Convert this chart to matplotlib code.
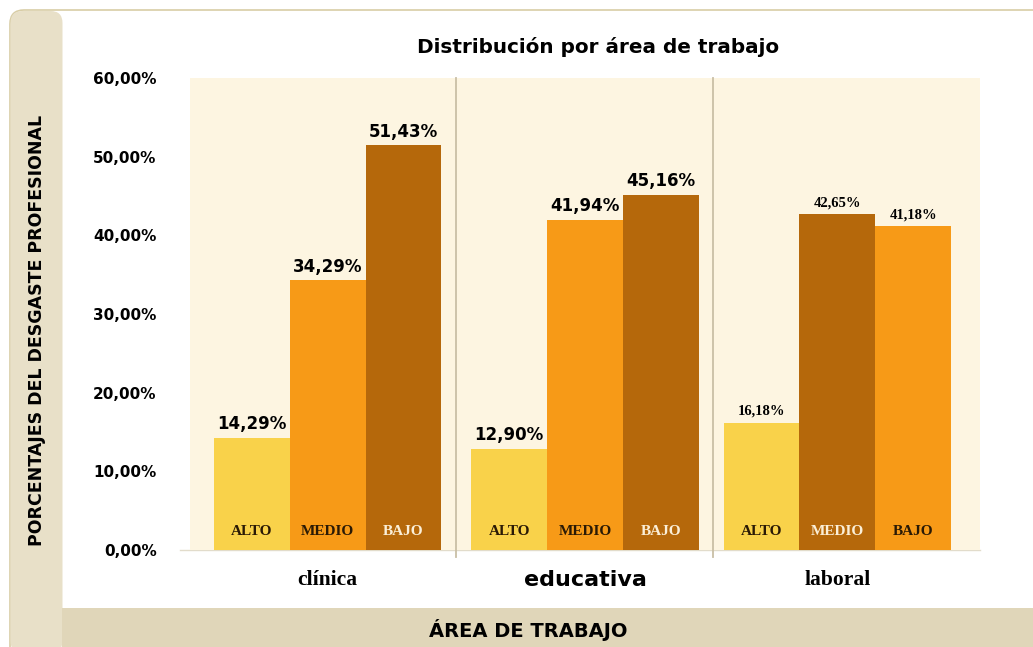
import matplotlib
matplotlib.use("Agg")
import matplotlib.pyplot as plt
from matplotlib.patches import FancyBboxPatch, Rectangle
import numpy as np

# Data
areas = ["clínica", "educativa", "laboral"]
niveles = ["ALTO", "MEDIO", "BAJO"]
alto = [14.29, 12.90, 16.18]
medio = [34.29, 41.94, 42.65]
bajo = [51.43, 45.16, 41.18]
yticks = [0, 10, 20, 30, 40, 50, 60]

W, H = 1033, 647
fig = plt.figure(figsize=(W / 100, H / 100), dpi=100)
fig.patch.set_facecolor("white")

def px(x, y):
    return x / W, 1 - y / H

# Background layer in pixel coordinates (y grows downward)
bg = fig.add_axes([0, 0, 1, 1], zorder=-5)
bg.set_xlim(0, W)
bg.set_ylim(H, 0)
bg.axis("off")

frame_col = "#D8CDA6"
bg.add_patch(FancyBboxPatch((10, 10), W + 30, H + 30,
                            boxstyle="round,pad=0,rounding_size=14",
                            facecolor="white", edgecolor=frame_col, linewidth=1.2))
bg.add_patch(FancyBboxPatch((10.5, 11), 52, H - 5,
                            boxstyle="round,pad=0,rounding_size=12",
                            facecolor="#E8E0C8", edgecolor="none"))
bg.add_patch(Rectangle((62, 608), W - 62, H - 608,
                       facecolor="#E0D6B9", edgecolor="none"))
# bottom axis line extending slightly left of the plot area
bg.plot([180, 980], [550, 550], color="#E2DCCB", lw=1.0)

# Plot area
l, b = px(190, 550)
r, t = px(980, 78)
ax = fig.add_axes([l, b, r - l, t - b])
ax.set_facecolor("#FDF5E1")

# group centres, nudged slightly inside each panel
x = np.arange(len(areas)) + np.array([0.023, 0.0, -0.042])
bw = 0.288
c_alto = "#F9D24A"
c_medio = "#F79A17"
c_bajo = "#B5680B"

medio_cols = [c_medio, c_medio, c_bajo]
bajo_cols = [c_bajo, c_bajo, c_medio]

ax.bar(x - bw, alto, bw, color=c_alto, zorder=2)
ax.bar(x, medio, bw, color=medio_cols, zorder=2)
ax.bar(x + bw, bajo, bw, color=bajo_cols, zorder=2)

ax.set_xlim(-0.5, 2.5)
ax.set_ylim(0, 60)

# Panel dividers
for d in [0.51, 1.486]:
    ax.axvline(d, ymin=-0.015, ymax=1, color="#C9BFA6", lw=1.3, clip_on=False, zorder=1)

for s in ["left", "right", "top", "bottom"]:
    ax.spines[s].set_visible(False)

ax.set_yticks(yticks)
ax.set_yticklabels([f"{v:.2f}".replace(".", ",") + "%" for v in yticks],
                   fontsize=11, fontweight="bold", family="DejaVu Sans")
ax.tick_params(axis="y", length=0, pad=24)
ax.set_xticks([])

def fmt(v):
    return f"{v:.2f}".replace(".", ",") + "%"

# Value labels
for i in range(3):
    for off, vals in zip([-bw, 0, bw], [alto, medio, bajo]):
        v = vals[i]
        if i < 2:
            ax.text(x[i] + off, v + 0.6, fmt(v), ha="center", va="bottom",
                    fontsize=12, fontweight="bold", family="DejaVu Sans", zorder=3)
        else:
            ax.text(x[i] + off, v + 0.6, fmt(v), ha="center", va="bottom",
                    fontsize=10.5, fontweight="bold", family="Liberation Serif", zorder=3)

# Level names inside the bars
lvl_cols = {
    0: ["#2A1A05", "#2A1A05", "#FBEFD8"],
    1: ["#2A1A05", "#2A1A05", "#FBEFD8"],
    2: ["#2A1A05", "#FBEFD8", "#2A1A05"],
}
for i in range(3):
    for j, off in enumerate([-bw, 0, bw]):
        ax.text(x[i] + off, 2.3, niveles[j], ha="center", va="center",
                fontsize=11, fontweight="bold", family="Liberation Serif",
                color=lvl_cols[i][j], zorder=3)

# Category names
cat_y = -3.8
ax.text(x[0], cat_y, areas[0], ha="center", va="center", fontsize=15.5,
        fontweight="bold", family="Liberation Serif", clip_on=False)
ax.text(x[1], cat_y, areas[1], ha="center", va="center", fontsize=16,
        fontweight="bold", family="DejaVu Sans", clip_on=False)
ax.text(x[2], cat_y, areas[2], ha="center", va="center", fontsize=15.5,
        fontweight="bold", family="Liberation Serif", clip_on=False)

# Titles
fig.text(*px(598, 47), "Distribución por área de trabajo", ha="center", va="center",
         fontsize=14.4, fontweight="bold", family="DejaVu Sans")
fig.text(*px(528, 630), "ÁREA DE TRABAJO", ha="center", va="center",
         fontsize=14, fontweight="bold", family="DejaVu Sans")
fig.text(*px(37, 330), "PORCENTAJES DEL DESGASTE PROFESIONAL", ha="center", va="center",
         rotation=90, fontsize=12.5, fontweight="bold", family="DejaVu Sans")

fig.savefig("out.png", dpi=100)
